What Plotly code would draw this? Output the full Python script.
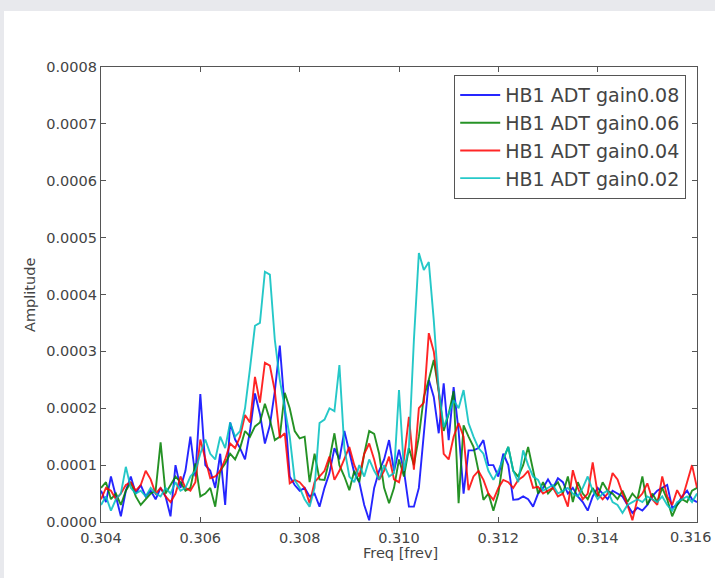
import numpy as np
import plotly.graph_objects as go

# Frequency bins [frev]
freq = np.round(np.linspace(0.304, 0.316, 121), 5)

# Spectral amplitudes, in units of 1e-4
gain008 = [
    0.55, 0.35, 0.8, 0.45, 0.1, 0.55, 0.8, 0.5, 0.65, 0.45,
    0.55, 0.4, 0.6, 0.45, 0.1, 1.0, 0.6, 0.9, 1.5, 0.8,
    2.25, 1.0, 0.9, 0.6, 1.2, 0.3, 1.75, 1.45, 1.3, 1.1,
    1.6, 2.26, 1.9, 1.38, 1.7, 2.3, 3.1, 2.0, 0.8, 0.65,
    0.55, 0.6, 0.45, 0.5, 0.27, 0.6, 0.86, 1.3, 1.1, 1.6,
    1.2, 0.86, 0.7, 0.3, 0.03, 0.6, 0.9, 1.1, 1.44, 0.9,
    1.27, 0.9, 0.27, 0.27, 0.6, 1.5, 2.5, 2.2, 1.56, 2.44,
    1.44, 2.37, 1.6, 0.5, 1.26, 1.26, 1.3, 1.44, 1.0, 1.0,
    0.8, 1.2, 1.0, 0.39, 0.4, 0.45, 0.4, 0.27, 0.5, 0.6,
    0.75, 0.6, 0.77, 0.7, 0.5, 0.6, 0.45, 0.35, 0.2, 0.45,
    0.6, 0.5, 0.4, 0.55, 0.5, 0.45, 0.3, 0.16, 0.25, 0.2,
    0.3, 0.45, 0.55, 0.6, 0.65, 0.25, 0.3, 0.45, 0.55, 0.4,
    0.35,
]
gain006 = [
    0.6, 0.7, 0.4, 0.5, 0.3, 0.55, 0.7, 0.45, 0.3, 0.4,
    0.5, 0.55, 1.4, 0.5, 0.65, 0.8, 0.7, 0.55, 0.6, 1.03,
    0.45, 0.5, 0.6, 0.27, 0.9, 1.03, 1.2, 1.1, 1.3, 1.6,
    1.5, 1.68, 1.75, 2.08, 1.8, 1.44, 1.5, 2.27, 2.0, 1.6,
    1.47, 1.5, 0.7, 1.2, 0.75, 0.74, 1.1, 1.56, 1.0, 0.8,
    0.56, 0.9, 0.7, 1.2, 1.6, 1.55, 1.2, 0.6, 0.33, 0.6,
    1.1, 0.8, 1.3, 1.0, 1.5, 2.2, 2.5, 2.85, 2.3, 1.6,
    1.9, 2.3, 0.33, 1.7, 1.5, 1.32, 0.9, 0.39, 0.5, 0.2,
    0.5, 1.1, 1.32, 0.9, 0.8, 1.0, 1.32, 0.9, 0.5, 0.7,
    0.5, 0.6, 0.7, 0.5, 0.8, 0.35, 0.7, 0.5, 0.4, 0.6,
    0.45, 0.7, 0.55, 0.5, 0.4, 0.55, 0.35, 0.5, 0.4, 0.8,
    0.3, 0.5, 0.35, 0.6, 0.4, 0.1, 0.3, 0.4, 0.35, 0.55,
    0.6,
]
gain004 = [
    0.4, 0.6, 0.55, 0.4, 0.5, 0.65, 0.7, 0.55, 0.65, 0.9,
    0.75, 0.5, 0.6, 0.45, 0.35, 0.5, 0.8, 0.6, 0.55, 0.7,
    1.45, 1.1, 0.77, 0.8, 0.9, 1.1, 1.38, 1.3, 1.5, 1.88,
    1.75, 2.55, 2.1, 2.8, 2.75, 2.3, 1.48, 1.56, 0.68, 0.74,
    0.7, 0.6, 0.33, 0.7, 0.8, 0.9, 1.15, 0.74, 0.9, 1.1,
    1.32, 1.0, 0.8, 1.2, 1.38, 1.1, 0.74, 0.9, 1.15, 0.75,
    0.7, 1.1, 1.85, 0.92, 2.0, 2.1, 3.32, 3.0, 2.3, 1.2,
    1.1, 1.5, 1.74, 1.5, 0.56, 0.8, 0.9, 0.74, 0.5, 0.39,
    0.6, 0.74, 0.7, 0.6, 0.74, 0.8, 0.9, 0.6, 0.62, 0.5,
    0.55, 0.6, 0.45, 0.5, 0.27, 0.91, 0.6, 0.4, 0.5, 1.05,
    0.5, 0.4, 0.5, 0.86, 0.75, 0.5, 0.3, 0.03, 0.4, 0.5,
    0.68, 0.4, 0.3, 0.8, 0.45, 0.3, 0.56, 0.4, 0.7, 1.0,
    0.6,
]
gain002 = [
    0.3, 0.45, 0.2, 0.4, 0.5, 0.97, 0.6, 0.5, 0.55, 0.45,
    0.6, 0.5, 0.45, 0.6, 0.5, 0.7, 0.55, 0.6, 0.8, 0.9,
    1.2, 1.45, 1.2, 1.1, 1.5, 1.3, 1.75, 1.5, 1.6, 2.0,
    2.7, 3.45, 3.5, 4.4, 4.35, 3.2, 2.5, 2.0, 1.5, 0.74,
    0.6, 0.4, 0.27, 0.6, 1.74, 1.8, 2.0, 1.95, 2.76, 1.3,
    0.8, 0.7, 1.0, 0.8, 1.1, 0.9, 0.75, 1.0, 0.8, 0.86,
    2.32, 0.9, 1.32, 3.2, 4.73, 4.43, 4.57, 3.55, 2.32, 1.67,
    1.9, 2.14, 2.0, 2.32, 1.74, 1.5, 1.3, 1.2, 0.9, 0.74,
    0.9, 1.1, 1.32, 0.9, 0.7, 1.26, 1.0, 0.8, 0.74, 0.55,
    0.6, 0.65, 0.5, 0.55, 0.6, 0.5, 0.45, 0.6, 0.8, 0.55,
    0.4, 0.5, 0.55, 0.35, 0.3, 0.16, 0.3, 0.35, 0.4, 0.35,
    0.45, 0.4, 0.35, 0.45, 0.3, 0.2, 0.35, 0.4, 0.45, 0.35,
    0.5,
]

series = [
    ("HB1 ADT gain0.08", gain008, "#0000ff"),
    ("HB1 ADT gain0.06", gain006, "#008000"),
    ("HB1 ADT gain0.04", gain004, "#ff0000"),
    ("HB1 ADT gain0.02", gain002, "#00bfbf"),
]

x_ticks = [0.304, 0.306, 0.308, 0.310, 0.312, 0.314, 0.316]
y_ticks = [0.0, 0.0001, 0.0002, 0.0003, 0.0004, 0.0005, 0.0006, 0.0007, 0.0008]

FONT = "DejaVu Sans"
TEXT = "#444444"
AXIS = "#555555"
TICK_SIZE = 14.5

fig = go.Figure()
for name, vals, color in series:
    fig.add_trace(go.Scatter(
        x=freq, y=np.array(vals) * 1e-4, mode="lines", name=name,
        line=dict(color=color, width=1.9), opacity=0.85,
    ))

L, R, T, B = 101, 18, 67, 56
W, H = 715, 578
pw, ph = W - L - R, H - T - B

def px_x(p):
    return (p - L) / pw

def px_y(p):
    return (H - B - p) / ph

axis_common = dict(
    showgrid=False, zeroline=False, showline=True, linecolor=AXIS, linewidth=1.2,
    mirror="ticks", ticks="inside", ticklen=5, tickcolor=AXIS, tickwidth=1,
    tickfont=dict(family=FONT, size=TICK_SIZE, color=TEXT),
    automargin=False,
)

# the last x label sits at the page edge, so it is set flush right as text
x_text = [f"{v:.3f}" for v in x_ticks]
last_label = x_text[-1]
x_text[-1] = ""

fig.update_layout(
    width=W, height=H,
    margin=dict(l=L, r=R, t=T, b=B, autoexpand=False),
    paper_bgcolor="#e8e9ed",
    plot_bgcolor="white",
    showlegend=True,
    legend=dict(
        x=px_x(686), y=px_y(75), xanchor="right", yanchor="top",
        bgcolor="white", bordercolor=AXIS, borderwidth=1.2,
        font=dict(family=FONT, size=19, color=TEXT),
        itemwidth=40, tracegroupgap=0,
    ),
    xaxis=dict(axis_common, range=[0.304, 0.316 + 1e-9], tickvals=x_ticks,
               ticktext=x_text, ticklabelstandoff=2),
    yaxis=dict(axis_common, range=[0, 0.0008 + 1e-12], tickvals=y_ticks,
               ticktext=[f"{v:.4f}" for v in y_ticks]),
    shapes=[dict(
        type="rect", xref="paper", yref="paper", layer="below",
        x0=px_x(4), x1=px_x(W + 20), y0=px_y(H + 20), y1=px_y(11),
        fillcolor="white", line=dict(width=0),
    )],
    annotations=[
        dict(text=last_label, xref="paper", yref="paper",
             x=px_x(714), y=px_y(537), xanchor="right", yanchor="middle",
             showarrow=False, font=dict(family=FONT, size=TICK_SIZE, color=TEXT)),
        dict(text="Freq [frev]", xref="paper", yref="paper",
             x=px_x(400), y=px_y(553), xanchor="center", yanchor="middle",
             showarrow=False, font=dict(family=FONT, size=14.5, color=TEXT)),
        dict(text="Amplitude", xref="paper", yref="paper", textangle=-90,
             x=px_x(30), y=px_y(295), xanchor="center", yanchor="middle",
             showarrow=False, font=dict(family=FONT, size=14.5, color=TEXT)),
    ],
)

fig.write_html("out.html")
